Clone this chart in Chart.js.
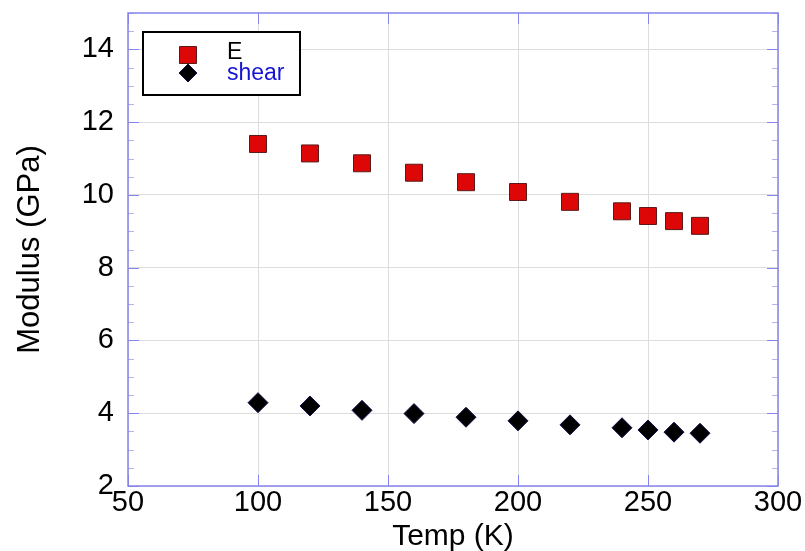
<!DOCTYPE html>
<html>
<head>
<meta charset="utf-8">
<script src="https://cdn.jsdelivr.net/npm/chart.js@4/dist/chart.umd.min.js"></script>
<style>
  html, body { margin: 0; padding: 0; background: #fff; }
  #wrap { width: 805px; height: 551px; }
</style>
</head>
<body>
<div id="wrap"><canvas id="c"></canvas></div>
<script>
// temperatures (K)
const temps = [100, 120, 140, 160, 180, 200, 220, 240, 250, 260, 270];
// Young's modulus E (GPa)
const modE = [11.40, 11.14, 10.87, 10.61, 10.35, 10.08, 9.81, 9.55, 9.42, 9.28, 9.15];
// shear modulus (GPa)
const modShear = [4.29, 4.20, 4.08, 3.99, 3.89, 3.79, 3.68, 3.60, 3.54, 3.48, 3.45];

const xTicks = [50, 100, 150, 200, 250, 300];
const yTicks = [2, 4, 6, 8, 10, 12, 14];
const yMinor = 0.5;

const frameColor = '#8585ea';
const fontFam = '"Liberation Sans", Arial, sans-serif';

function pts(ys) {
    return temps.map(function(t, i) { return {x: t, y: ys[i]}; });
}

// box round the plot with ticks pointing inward, on all four sides
const framePlugin = {
    id: 'frame',
    afterDatasetsDraw(chart) {
        const ctx = chart.ctx;
        const a = chart.chartArea;
        const xs = chart.scales.x, ys = chart.scales.y;
        ctx.save();
        // minor y ticks
        ctx.strokeStyle = '#b4b4f2';
        ctx.lineWidth = 1;
        for (let v = ys.min; v <= ys.max + 1e-9; v += yMinor) {
            if (yTicks.indexOf(v) >= 0) continue;
            const py = Math.round(ys.getPixelForValue(v)) + 0.5;
            ctx.beginPath();
            ctx.moveTo(a.left, py); ctx.lineTo(a.left + 6, py);
            ctx.moveTo(a.right, py); ctx.lineTo(a.right - 6, py);
            ctx.stroke();
        }
        // major ticks
        ctx.strokeStyle = frameColor;
        yTicks.forEach(function(v) {
            const py = Math.round(ys.getPixelForValue(v)) + 0.5;
            ctx.beginPath();
            ctx.moveTo(a.left, py); ctx.lineTo(a.left + 11, py);
            ctx.moveTo(a.right, py); ctx.lineTo(a.right - 11, py);
            ctx.stroke();
        });
        xTicks.forEach(function(v) {
            const px = Math.round(xs.getPixelForValue(v)) + 0.5;
            ctx.beginPath();
            ctx.moveTo(px, a.bottom); ctx.lineTo(px, a.bottom - 11);
            ctx.moveTo(px, a.top); ctx.lineTo(px, a.top + 11);
            ctx.stroke();
        });
        ctx.lineWidth = 1.5;
        ctx.strokeRect(a.left, a.top, a.right - a.left, a.bottom - a.top);
        ctx.restore();
    }
};

// boxed legend drawn inside the plot, upper left
const boxLegend = {
    id: 'boxLegend',
    afterDraw(chart) {
        const ctx = chart.ctx;
        const a = chart.chartArea;
        const bx = a.left + 15, by = a.top + 19, bw = 157, bh = 63;
        ctx.save();
        ctx.fillStyle = '#fff';
        ctx.fillRect(bx, by, bw, bh);
        ctx.strokeStyle = '#000';
        ctx.lineWidth = 2;
        ctx.strokeRect(bx, by, bw, bh);
        const textColors = ['#000', '#1414d2'];
        const rowY = [by + 23, by + 41];
        chart.data.datasets.forEach(function(ds, i) {
            ctx.fillStyle = ds.backgroundColor;
            ctx.strokeStyle = ds.borderColor;
            ctx.lineWidth = 1;
            Chart.helpers.drawPoint(ctx, {
                pointStyle: ds.pointStyle,
                radius: ds.legendRadius,
                borderWidth: 1
            }, bx + 45, rowY[i]);
            ctx.fillStyle = textColors[i];
            ctx.font = '23px ' + fontFam;
            ctx.textBaseline = 'middle';
            ctx.fillText(ds.label, bx + 84, rowY[i] + (i === 0 ? -2 : 1));
        });
        ctx.restore();
    }
};

const ctx = document.getElementById('c');
new Chart(ctx, {
    type: 'scatter',
    data: {
        datasets: [
            {
                label: 'E',
                data: pts(modE),
                pointStyle: 'rect',
                pointRadius: 12,
                legendRadius: 12,
                backgroundColor: '#dd0707',
                borderColor: '#5a1a1a',
                borderWidth: 1
            },
            {
                label: 'shear',
                data: pts(modShear),
                pointStyle: 'rectRot',
                pointRadius: 10,
                legendRadius: 9,
                backgroundColor: '#000',
                borderColor: '#10104a',
                borderWidth: 1
            }
        ]
    },
    options: {
        responsive: true,
        maintainAspectRatio: false,
        animation: false,
        layout: { padding: { top: 11, right: 27, left: 0, bottom: 0 } },
        plugins: {
            legend: { display: false },
            tooltip: { enabled: false }
        },
        scales: {
            x: {
                type: 'linear',
                min: 50,
                max: 300,
                ticks: {
                    stepSize: 50,
                    color: '#000',
                    padding: 0,
                    font: { family: fontFam, size: 29 }
                },
                grid: { color: '#dddddd', drawTicks: false },
                border: { display: false },
                title: {
                    display: true,
                    text: 'Temp (K)',
                    color: '#000',
                    padding: { top: 0, bottom: -4 },
                    font: { family: fontFam, size: 30 }
                },
                afterFit(scale) {
                    scale.height = 65;
                    scale.paddingLeft = 0;
                    scale.paddingRight = 0;
                }
            },
            y: {
                type: 'linear',
                min: 2,
                max: 15,
                afterBuildTicks(scale) {
                    scale.ticks = yTicks.map(function(v) { return {value: v}; });
                },
                ticks: {
                    color: '#000',
                    padding: 14,
                    font: { family: fontFam, size: 29 }
                },
                grid: { color: '#dddddd', drawTicks: false },
                border: { display: false },
                title: {
                    display: true,
                    text: 'Modulus (GPa)',
                    color: '#000',
                    padding: { top: 12, bottom: 0 },
                    font: { family: fontFam, size: 31 }
                },
                afterFit(scale) {
                    scale.width = 128;
                    scale.paddingTop = 0;
                    scale.paddingBottom = 0;
                }
            }
        }
    },
    plugins: [framePlugin, boxLegend]
});
</script>
</body>
</html>
